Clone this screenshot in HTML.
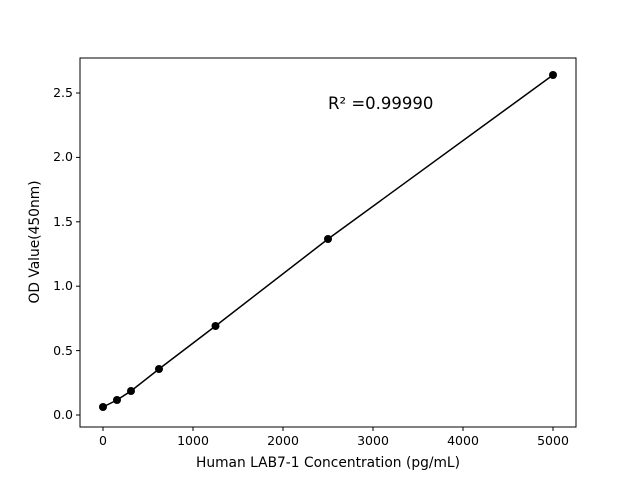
<!DOCTYPE html>
<html><head><style>body{margin:0;background:#fff}svg{display:block}text{font-family:"DejaVu Sans","Liberation Sans",sans-serif;fill:#000}</style></head>
<body>
<svg width="640" height="480" viewBox="0 0 640 480" xmlns="http://www.w3.org/2000/svg">
<rect x="80" y="58" width="496" height="369" fill="none" stroke="#000" stroke-width="1"/>
<g stroke="#000" stroke-width="1">
<line x1="103" y1="427" x2="103" y2="431"/>
<line x1="193" y1="427" x2="193" y2="431"/>
<line x1="283" y1="427" x2="283" y2="431"/>
<line x1="373" y1="427" x2="373" y2="431"/>
<line x1="463" y1="427" x2="463" y2="431"/>
<line x1="553" y1="427" x2="553" y2="431"/>
<line x1="76" y1="415" x2="80" y2="415"/>
<line x1="76" y1="350.6" x2="80" y2="350.6"/>
<line x1="76" y1="286.2" x2="80" y2="286.2"/>
<line x1="76" y1="221.8" x2="80" y2="221.8"/>
<line x1="76" y1="157.4" x2="80" y2="157.4"/>
<line x1="76" y1="93" x2="80" y2="93"/>
</g>
<g font-size="12.5" text-anchor="middle">
<text x="103" y="445">0</text><text x="193" y="445">1000</text><text x="283" y="445">2000</text>
<text x="373" y="445">3000</text><text x="463" y="445">4000</text><text x="553" y="445">5000</text>
</g>
<g font-size="12.5" text-anchor="end">
<text x="73" y="419">0.0</text><text x="73" y="355">0.5</text><text x="73" y="290">1.0</text>
<text x="73" y="226">1.5</text><text x="73" y="161">2.0</text><text x="73" y="97">2.5</text>
</g>
<text x="328" y="467" font-size="13.8" text-anchor="middle">Human LAB7-1 Concentration (pg/mL)</text>
<text transform="translate(39,242) rotate(-90)" font-size="13.8" text-anchor="middle">OD Value(450nm)</text>
<text x="328" y="109" font-size="16.5">R² =0.99990</text>
<polyline fill="none" stroke="#000" stroke-width="1.5" points="103,407 117,400 131,391 159,369 215.5,326 328,239 553,75"/>
<g fill="#000">
<circle cx="103" cy="407" r="4"/><circle cx="117" cy="400" r="4"/><circle cx="131" cy="391" r="4"/>
<circle cx="159" cy="369" r="4"/><circle cx="215.5" cy="326" r="4"/><circle cx="328" cy="239" r="4"/>
<circle cx="553" cy="75" r="4"/>
</g>
</svg>
</body></html>
